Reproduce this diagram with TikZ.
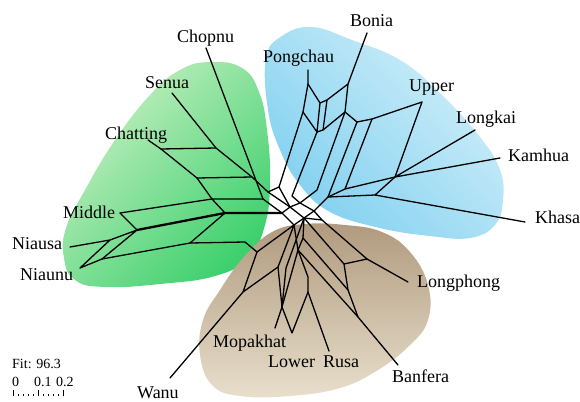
\documentclass[tikz,border=0pt]{standalone}
\usepackage{fontspec}
\setmainfont{Liberation Serif}
\definecolor{grnlight}{HTML}{C8F0C2}
\definecolor{grndark}{HTML}{3ED06E}
\definecolor{blulight}{HTML}{D2EFF9}
\definecolor{bludark}{HTML}{80D0F0}
\definecolor{brnlight}{HTML}{E8DFCC}
\definecolor{brndark}{HTML}{B09A7E}
\begin{document}
\begin{tikzpicture}[x=1pt,y=-1pt,
  net/.style={line width=1.3pt, line join=round, line cap=round},
  netthick/.style={line width=2.3pt, line join=round, line cap=round},
  taxon/.style={anchor=base west, inner sep=0pt, font=\fontsize{18}{20}\selectfont},
  small/.style={anchor=base west, inner sep=0pt, font=\fontsize{14}{16}\selectfont}]
\useasboundingbox (0,0) rectangle (580,401);

% ---- cluster backgrounds ----
\shade[top color=grnlight, bottom color=grndark, shading angle=45]
  plot[smooth cycle, tension=0.75] coordinates {
  (210,62) (242,68) (259,92) (267,130) (270,180) (265,225) (248,258)
  (215,276) (160,284) (105,287) (75,280) (64,258) (66,228) (85,190)
  (115,140) (150,95) (180,70)};
\shade[top color=blulight, bottom color=bludark, shading angle=-45]
  plot[smooth cycle, tension=0.7] coordinates {
  (266,58) (282,36) (312,27) (352,40) (400,60) (440,93) (480,137)
  (500,170) (503,200) (495,225) (470,238) (430,236) (380,228)
  (330,212) (300,185) (280,150) (268,110)};
\shade[top color=brndark, bottom color=brnlight]
  plot[smooth cycle, tension=0.7] coordinates {
  (272,232) (305,224) (345,225) (382,232) (410,252) (428,285) (428,320)
  (410,345) (378,370) (340,388) (290,396) (240,396) (212,385) (200,355)
  (203,320) (220,290) (243,258)};

% ---- leaves ----
\coordinate (cho) at (206,48);
\coordinate (sen) at (172,93);
\coordinate (cha) at (148,140);
\coordinate (mid) at (120,213);
\coordinate (nia) at (70,247);
\coordinate (niu) at (80,268);
\coordinate (wan) at (170,378);
\coordinate (mop) at (275,328);
\coordinate (low) at (292,333);
\coordinate (rus) at (329,351);
\coordinate (ban) at (398,365);
\coordinate (lph) at (408,282);
\coordinate (kha) at (525,222);
\coordinate (kam) at (500,158);
\coordinate (lka) at (475,130);
\coordinate (upp) at (422,102);
\coordinate (bon) at (367,33);
\coordinate (pon) at (308,70);

% ---- inner vertices: green side ----
\coordinate (g1) at (161,149);
\coordinate (g2) at (216,148);
\coordinate (g3) at (197,178);
\coordinate (g4) at (252,177);
\coordinate (g5) at (212,199);
\coordinate (g6) at (263,199);
\coordinate (g7) at (268,192);
\coordinate (g8) at (137,230);
\coordinate (g9) at (225,213);
\coordinate (g10) at (110,240);
\coordinate (g11) at (102,259);
\coordinate (g12) at (190,243);
\coordinate (g13) at (245,242);

% ---- centre ----
\coordinate (ca) at (282,213);
\coordinate (cb) at (290,207);
\coordinate (cc) at (304,218);
\coordinate (cd) at (294,225);
\coordinate (cf) at (300,203);
\coordinate (cg) at (314,211);
\coordinate (ch) at (322,220);

% ---- blue side ----
\coordinate (u1) at (308,84);
\coordinate (u2) at (320,103);
\coordinate (u2b) at (327,100);
\coordinate (u3) at (303,112);
\coordinate (u4) at (348,84);
\coordinate (u5) at (345,112);
\coordinate (u6) at (317,132);
\coordinate (u6b) at (323,130);
\coordinate (u7) at (357,122);
\coordinate (u8) at (372,119);
\coordinate (u9) at (395,177);
\coordinate (u10) at (375,195);
\coordinate (e1) at (279,187);
\coordinate (e2) at (292,196);
\coordinate (e3) at (317,190);
\coordinate (e4) at (328,197);
\coordinate (e5) at (345,189);

% ---- brown side ----
\coordinate (w1) at (243,292);
\coordinate (w2) at (257,252);
\coordinate (w3) at (278,267);
\coordinate (k1) at (282,307);
\coordinate (k2) at (298,250);
\coordinate (k3) at (308,277);
\coordinate (k4) at (308,292);
\coordinate (k5) at (286,268);
\coordinate (k8) at (303,238);
\coordinate (b1) at (367,259);
\coordinate (b2) at (344,264);
\coordinate (b3) at (348,290);
\coordinate (b4) at (358,317);

% ---- splits network ----
\draw[net] (cha) -- (g1) -- (g3) -- (g5) -- (g6);
\draw[net] (sen) -- (g2) -- (g4) -- (g7);
\draw[net] (g1) -- (g2);
\draw[net] (g3) -- (g4);
\draw[net] (cho) -- (g6) -- (ca);
\draw[net] (g7) -- (cb);
\draw[net] (g7) -- (e1);
\draw[net] (mid) -- (g5) -- (g9);
\draw[net] (mid) -- (g8);
\draw[netthick] (g8) -- (g9) -- (ca);
\draw[net] (g9) -- (g12) -- (g13) -- (w2);
\draw[net] (nia) -- (g10) -- (g8) -- (g11) -- (niu) -- (g10);
\draw[net] (g11) -- (g12);

\draw[net] (ca) -- (cb) -- (cc) -- (cd) -- cycle;
\draw[net] (cb) -- (cf) -- (cg) -- (cc);
\draw[net] (cg) -- (ch) -- (cc);

\draw[net] (pon) -- (u1) -- (u2) -- (u2b) -- (u4) -- (bon);
\draw[net] (u1) -- (u3) -- (u6) -- (u2);
\draw[net] (u6) -- (u6b) -- (u2b);
\draw[net] (u6b) -- (u5) -- (u4);
\draw[net] (u5) -- (u7) -- (u8) -- (upp) -- (u9) -- (u10) -- (kha);
\draw[net] (lka) -- (u9) -- (kam);
\draw[net] (u3) -- (e1) -- (cb);
\draw[net] (u6) -- (e2) -- (cf);
\draw[net] (u5) -- (e3) -- (cf);
\draw[net] (u7) -- (e4) -- (cg);
\draw[net] (u8) -- (e5) -- (u9);
\draw[net] (e4) -- (u10);
\draw[net] (e4) -- (e5);

\draw[net] (wan) -- (w1) -- (w2) -- (cd) -- (w3) -- (w1);
\draw[net] (w3) -- (k1) -- (mop);
\draw[net] (k1) -- (low) -- (k4) -- (rus);
\draw[net] (cc) -- (k5) -- (k1);
\draw[net] (cd) -- (k2) -- (k3) -- (k4);
\draw[net] (k2) -- (k1);
\draw[net] (cc) -- (k8) -- (k2);
\draw[net] (k8) -- (b3);
\draw[net] (k2) -- (b4) -- (ban);
\draw[net] (cc) -- (b2);
\draw[net] (ch) -- (b1) -- (lph);
\draw[net] (b1) -- (b2) -- (b3) -- (b4);

% ---- taxon labels ----
\node[taxon] (tcho) at (177,43) {Chopnu};
\node[taxon] (tbon) at (350,27) {Bonia};
\node[taxon] (tpon) at (263,63) {Pongchau};
\node[taxon] (tupp) at (409,92) {Upper};
\node[taxon] (tlka) at (456,124) {Longkai};
\node[taxon] (tkam) at (508,161) {Kamhua};
\node[taxon] (tkha) at (535,223) {Khasa};
\node[taxon] (tlph) at (417,287) {Longphong};
\node[taxon] (tban) at (392,382) {Banfera};
\node[taxon] (trus) at (323,367) {Rusa};
\node[taxon] (tlow) at (268,367) {Lower};
\node[taxon] (tmop) at (213,347) {Mopakhat};
\node[taxon] (twan) at (137,398) {Wanu};
\node[taxon] (tniu) at (20,280) {Niaunu};
\node[taxon] (tnia) at (12,249) {Niausa};
\node[taxon] (tmid) at (63,218) {Middle};
\node[taxon] (tcha) at (105,139) {Chatting};
\node[taxon] (tsen) at (145,89) {Senua};

% ---- fit and scale ----
\node[small] (fit) at (12,368) {Fit: 96.3};
\node[small] (s0) at (12,386) {0};
\node[small] (s1) at (34,386) {0.1};
\node[small] (s2) at (56,386) {0.2};
\foreach \i in {0,...,10} {
  \pgfmathsetmacro{\tx}{13+5*\i}
  \draw[line width=0.8pt] (\tx,396) -- (\tx,394);
}
\foreach \i in {0,5,10} {
  \pgfmathsetmacro{\tx}{13+5*\i}
  \draw[line width=0.8pt] (\tx,396) -- (\tx,390);
}
\end{tikzpicture}
\end{document}
